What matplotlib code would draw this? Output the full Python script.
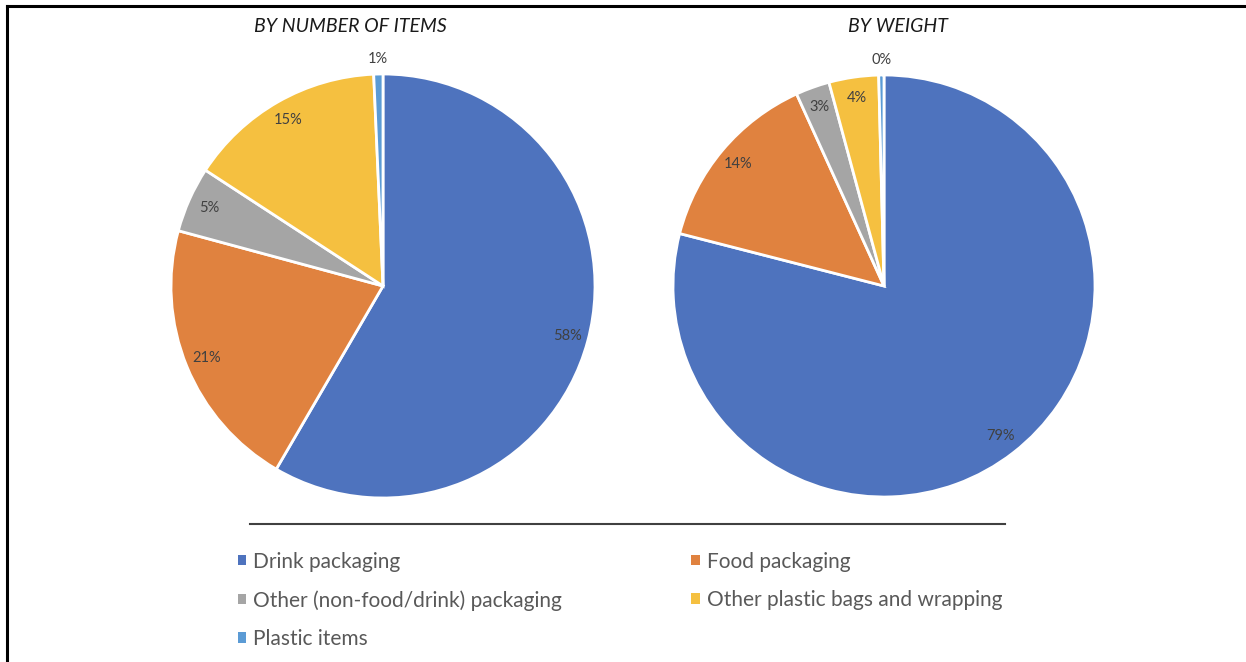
import matplotlib.pyplot as plt
import numpy as np
from matplotlib.lines import Line2D
from matplotlib.patches import Patch

categories = ['Drink packaging', 'Food packaging', 'Other (non-food/drink) packaging',
              'Other plastic bags and wrapping', 'Plastic items']
by_items = [58.4, 20.8, 5.0, 15.1, 0.7]
by_weight = [79.0, 14.2, 2.6, 3.8, 0.4]
titles = ['BY NUMBER OF ITEMS', 'BY WEIGHT']
colors = ['#4E73BE', '#E0823F', '#A5A5A5', '#F5C040', '#5B9BD5']

plt.rcParams['font.family'] = ['Lato', 'DejaVu Sans']

fig = plt.figure(figsize=(12.46, 6.62), dpi=100)

W, H = 1246, 662
# pie axes placed in pixel terms (center x, center y from top, radius)
pies = [(383, 286, 212), (884, 286, 211)]
title_x = [350, 898]

for k, (vals, (cx, cy, r)) in enumerate(zip([by_items, by_weight], pies)):
    ax = fig.add_axes([(cx - r) / W, 1 - (cy + r) / H, 2 * r / W, 2 * r / H])
    wedges, texts, autotexts = ax.pie(vals, colors=colors, startangle=90, counterclock=False,
                                      autopct='%1.0f%%', pctdistance=0.9,
                                      wedgeprops=dict(edgecolor='white', linewidth=2),
                                      textprops=dict(fontsize=10.5, color='#404040'))
    # smallest slice label sits just outside the pie
    w = wedges[-1]
    mid = np.deg2rad((w.theta1 + w.theta2) / 2)
    autotexts[-1].set_position((1.07 * np.cos(mid), 1.07 * np.sin(mid)))
    ax.set_xlim(-1, 1)
    ax.set_ylim(-1, 1)
    ax.set_aspect('equal')
    fig.text(title_x[k] / W, 1 - 26 / H, titles[k], ha='center', va='center',
             fontsize=14, style='italic', color='#1a1a1a')

# separator line above legend
fig.add_artist(Line2D([250 / W, 1005 / W], [1 - 524 / H, 1 - 524 / H],
                      color='#404040', linewidth=1.5))

# legend in two columns
handles = [Patch(facecolor=c) for c in colors]
order = [0, 2, 4, 1, 3]
leg = fig.legend([handles[i] for i in order], [categories[i] for i in order],
                 ncol=2, loc='upper left', bbox_to_anchor=(221 / W, 1 - 535 / H),
                 frameon=False, fontsize=15, handlelength=0.4, handleheight=0.4,
                 handletextpad=0.35, columnspacing=6.2, labelspacing=0.88,
                 labelcolor='#595959', borderpad=0.3)

# frame: top and left border
fig.add_artist(Line2D([6.5 / W, 1], [1 - 6 / H, 1 - 6 / H], color='black', linewidth=2.2))
fig.add_artist(Line2D([6.5 / W, 6.5 / W], [0, 1 - 6 / H], color='black', linewidth=2.2))

fig.savefig('out.png', dpi=100)
